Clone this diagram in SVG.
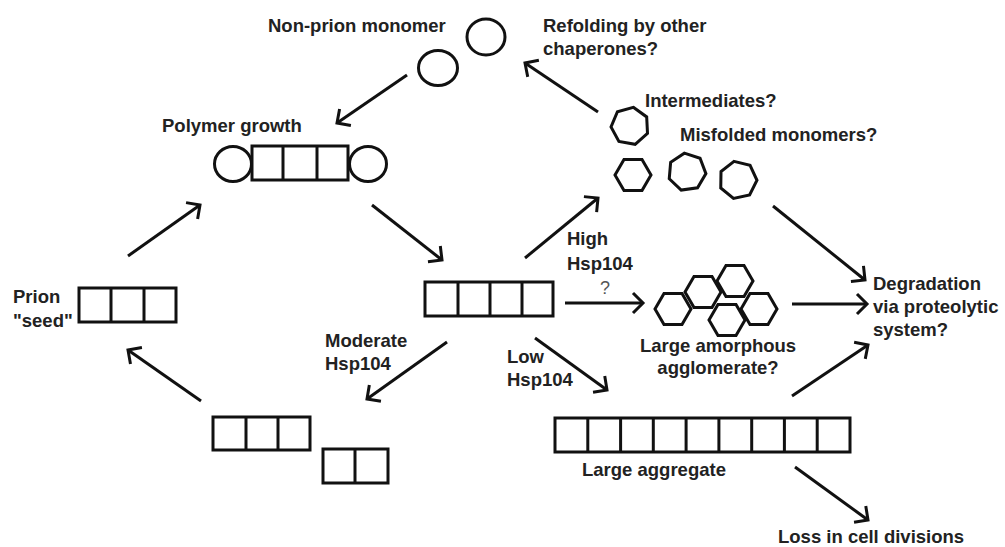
<svg xmlns="http://www.w3.org/2000/svg" width="1005" height="547" viewBox="0 0 1005 547">
<style>
.s{fill:none;stroke:#111;stroke-width:3}
.c{fill:none;stroke:#111;stroke-width:3;marker-end:url(#ah)}
.t{font-family:"Liberation Sans",Arial,sans-serif;font-weight:bold;font-size:18.5px;fill:#222}
.q{font-family:"Liberation Sans",Arial,sans-serif;font-size:18px;fill:#555}
</style>
<defs>
<marker id="ah" markerUnits="userSpaceOnUse" viewBox="-13 -12 16 24" refX="0" refY="0" markerWidth="16" markerHeight="24" orient="auto" overflow="visible">
<path d="M-10,-10 L0,0 L-10,10" fill="none" stroke="#111" stroke-width="3"/>
</marker>
<polygon id="hept" points="0,-19 14.85,-11.85 18.52,4.23 8.24,17.12 -8.24,17.12 -18.52,4.23 -14.85,-11.85"/>
<polygon id="hex" points="18,0 9,15.6 -9,15.6 -18,0 -9,-15.6 9,-15.6"/>
</defs>
<rect width="1005" height="547" fill="#fff"/>

<g id="connectors">
<line class="c" x1="407" y1="75" x2="337" y2="123"/>
<line class="c" x1="372" y1="205" x2="442" y2="260"/>
<line class="c" x1="128" y1="256" x2="200" y2="205"/>
<line class="c" x1="201" y1="401" x2="128" y2="350"/>
<line class="c" x1="447" y1="342" x2="367" y2="399"/>
<line class="c" x1="525" y1="258" x2="598" y2="198"/>
<line class="c" x1="598" y1="112" x2="525" y2="63"/>
<line class="c" x1="565" y1="303" x2="643" y2="303"/>
<line class="c" x1="792" y1="304" x2="867" y2="304"/>
<line class="c" x1="773" y1="206" x2="865" y2="280"/>
<line class="c" x1="535" y1="338" x2="607" y2="390"/>
<line class="c" x1="792" y1="396" x2="868" y2="345"/>
<line class="c" x1="795" y1="467" x2="868" y2="520"/>
</g>

<g id="nonprion-monomer">
<ellipse class="s" cx="438" cy="68" rx="19.5" ry="17.5"/>
<ellipse class="s" cx="486" cy="37" rx="19" ry="18"/>
<text class="t" x="268" y="32">Non-prion monomer</text>
</g>

<g id="refolding">
<text class="t" x="543" y="32">Refolding by other</text>
<text class="t" x="543" y="55">chaperones?</text>
</g>

<g id="polymer-growth">
<text class="t" x="162" y="132">Polymer growth</text>
<ellipse class="s" cx="233" cy="164" rx="18.5" ry="17.5"/>
<ellipse class="s" cx="368" cy="164" rx="18.5" ry="17.5"/>
<rect class="s" x="252" y="146" width="96" height="34"/>
<line class="s" x1="283" y1="146" x2="283" y2="180"/>
<line class="s" x1="317" y1="146" x2="317" y2="180"/>
</g>

<g id="intermediates">
<use href="#hept" class="s" transform="translate(630,126) rotate(10)"/>
<text class="t" x="645" y="107">Intermediates?</text>
</g>

<g id="misfolded-monomers">
<text class="t" x="680" y="141">Misfolded monomers?</text>
<use href="#hex" class="s" transform="translate(633,175)"/>
<use href="#hept" class="s" transform="translate(687,172) rotate(-8)"/>
<use href="#hept" class="s" transform="translate(738,180) rotate(-12)"/>
</g>

<g id="prion-seed">
<text class="t" x="13" y="303">Prion</text>
<text class="t" x="13" y="327">"seed"</text>
<rect class="s" x="79" y="288" width="97" height="34"/>
<line class="s" x1="111" y1="288" x2="111" y2="322"/>
<line class="s" x1="144" y1="288" x2="144" y2="322"/>
</g>

<g id="polymer">
<rect class="s" x="425" y="282" width="128" height="34"/>
<line class="s" x1="458" y1="282" x2="458" y2="316"/>
<line class="s" x1="490" y1="282" x2="490" y2="316"/>
<line class="s" x1="522" y1="282" x2="522" y2="316"/>
</g>

<g id="high-hsp104">
<text class="t" x="567" y="245">High</text>
<text class="t" x="567" y="270">Hsp104</text>
<text class="q" x="605" y="294" text-anchor="middle">?</text>
</g>

<g id="amorphous-agglomerate">
<use href="#hex" class="s" transform="translate(673,309)"/>
<use href="#hex" class="s" transform="translate(703,292)"/>
<use href="#hex" class="s" transform="translate(735,281)"/>
<use href="#hex" class="s" transform="translate(759,309)"/>
<use href="#hex" class="s" transform="translate(727,320)"/>
<text class="t" x="718" y="352" text-anchor="middle">Large amorphous</text>
<text class="t" x="718" y="374" text-anchor="middle">agglomerate?</text>
</g>

<g id="degradation">
<text class="t" x="873" y="290">Degradation</text>
<text class="t" x="873" y="313">via proteolytic</text>
<text class="t" x="873" y="336">system?</text>
</g>

<g id="moderate-hsp104">
<text class="t" x="325" y="347">Moderate</text>
<text class="t" x="325" y="370">Hsp104</text>
</g>

<g id="fragments">
<rect class="s" x="213" y="417" width="97" height="33"/>
<line class="s" x1="246" y1="417" x2="246" y2="450"/>
<line class="s" x1="278" y1="417" x2="278" y2="450"/>
<rect class="s" x="323" y="449" width="65" height="34"/>
<line class="s" x1="355" y1="449" x2="355" y2="483"/>
</g>

<g id="low-hsp104">
<text class="t" x="507" y="363">Low</text>
<text class="t" x="507" y="386">Hsp104</text>
</g>

<g id="large-aggregate">
<rect class="s" x="555" y="418" width="295" height="34"/>
<line class="s" x1="587.8" y1="418" x2="587.8" y2="452"/>
<line class="s" x1="620.6" y1="418" x2="620.6" y2="452"/>
<line class="s" x1="653.3" y1="418" x2="653.3" y2="452"/>
<line class="s" x1="686.1" y1="418" x2="686.1" y2="452"/>
<line class="s" x1="718.9" y1="418" x2="718.9" y2="452"/>
<line class="s" x1="751.7" y1="418" x2="751.7" y2="452"/>
<line class="s" x1="784.4" y1="418" x2="784.4" y2="452"/>
<line class="s" x1="817.2" y1="418" x2="817.2" y2="452"/>
<text class="t" x="582" y="476">Large aggregate</text>
</g>

<g id="loss">
<text class="t" x="778" y="543">Loss in cell divisions</text>
</g>
</svg>
